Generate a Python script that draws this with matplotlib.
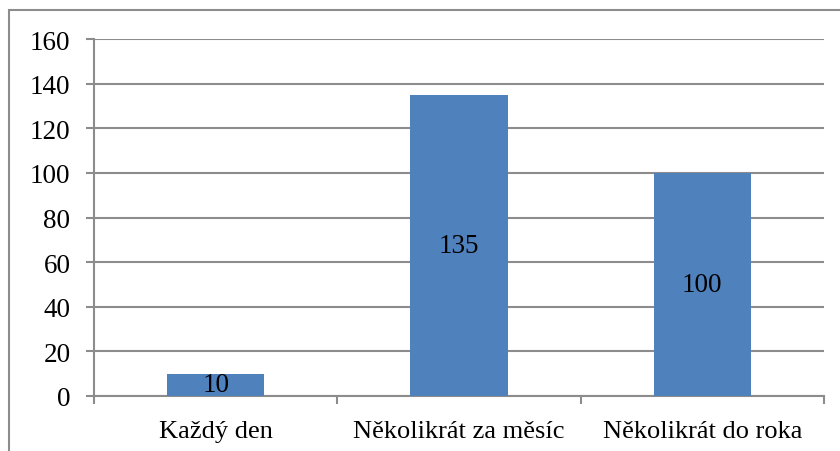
import matplotlib.pyplot as plt
from matplotlib.patches import Rectangle
import numpy as np

categories = ['Každý den', 'Několikrát za měsíc', 'Několikrát do roka']
values = [10, 135, 100]
y_ticks = [0, 20, 40, 60, 80, 100, 120, 140, 160]

plt.rcParams['font.family'] = ['Liberation Serif', 'DejaVu Serif']

W, H = 840, 452
fig = plt.figure(figsize=(W / 100, H / 100), dpi=100)

# outer chart border (runs off the right and bottom edges)
fig.patches.append(Rectangle((8.5 / W, -0.1), 1.2, 1 - 10.5 / H + 0.1,
                             transform=fig.transFigure, fill=False,
                             edgecolor='#8c8c8c', linewidth=1.5))

ax = fig.add_axes([94 / W, (H - 397) / H, 730 / W, 357 / H])

x = np.arange(len(categories))
bars = ax.bar(x, values, width=0.4, color='#4F81BD', zorder=3)
for b, v in zip(bars, values):
    ax.text(b.get_x() + b.get_width() / 2, v / 2, str(v),
            ha='center', va='center', fontsize=19.5, zorder=4)

ax.set_xlim(-0.5, len(categories) - 0.5)
ax.set_ylim(0, 160)
ax.set_yticks(y_ticks)
ax.set_yticklabels([str(t) for t in y_ticks], fontsize=19.5)
ax.yaxis.grid(True, color='#8c8c8c', linewidth=1.5)

ax.set_xticks(x)
ax.set_xticklabels(categories, fontsize=19)
ax.tick_params(axis='x', length=0, pad=17)
ax.set_xticks(np.arange(len(categories) + 1) - 0.5, minor=True)
ax.tick_params(axis='x', which='minor', length=6, width=1.5, color='#8c8c8c')
ax.tick_params(axis='y', length=6, width=1.5, color='#8c8c8c', pad=11)

for s in ['top', 'right']:
    ax.spines[s].set_visible(False)
for s in ['left', 'bottom']:
    ax.spines[s].set_color('#8c8c8c')
    ax.spines[s].set_linewidth(1.5)

fig.savefig('out.png', dpi=100)
